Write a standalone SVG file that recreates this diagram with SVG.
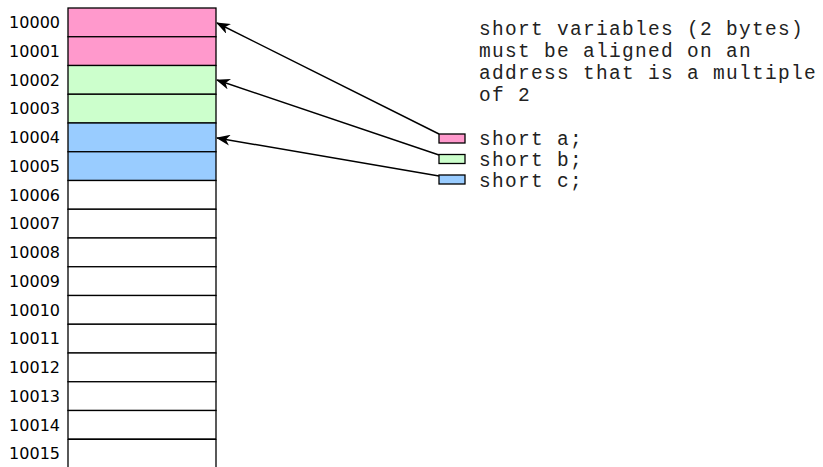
<svg xmlns="http://www.w3.org/2000/svg" width="823" height="467" viewBox="0 0 823 467">
<style>
.lbl{font-family:"DejaVu Sans",sans-serif;font-size:16px;text-anchor:end;fill:#000}
.mono{font-family:"Liberation Mono","Courier New",monospace;font-size:19.5px;letter-spacing:1.3px;fill:#222}
.cell{stroke:#000;stroke-width:1.3}
.w{fill:#fff}.p{fill:#ff99cc}.g{fill:#ccffcc}.b{fill:#99ccff}
.conn{stroke:#000;stroke-width:1.4;fill:none}
</style>
<defs>
<marker id="ah" viewBox="0 0 14 11" refX="13" refY="5.5" markerWidth="14" markerHeight="11" markerUnits="userSpaceOnUse" orient="auto">
<path d="M0,0 L14,5.5 L0,11 L4,5.5 z" fill="#000"/>
</marker>
</defs>
<rect width="823" height="467" fill="#fff"/>
<g id="memory">
<rect class="cell p" x="68" y="8" width="148" height="28.75"/>
<rect class="cell p" x="68" y="36.75" width="148" height="28.75"/>
<rect class="cell g" x="68" y="65.5" width="148" height="28.75"/>
<rect class="cell g" x="68" y="94.25" width="148" height="28.75"/>
<rect class="cell b" x="68" y="123" width="148" height="28.75"/>
<rect class="cell b" x="68" y="151.75" width="148" height="28.75"/>
<rect class="cell w" x="68" y="180.5" width="148" height="28.75"/>
<rect class="cell w" x="68" y="209.25" width="148" height="28.75"/>
<rect class="cell w" x="68" y="238" width="148" height="28.75"/>
<rect class="cell w" x="68" y="266.75" width="148" height="28.75"/>
<rect class="cell w" x="68" y="295.5" width="148" height="28.75"/>
<rect class="cell w" x="68" y="324.25" width="148" height="28.75"/>
<rect class="cell w" x="68" y="353" width="148" height="28.75"/>
<rect class="cell w" x="68" y="381.75" width="148" height="28.75"/>
<rect class="cell w" x="68" y="410.5" width="148" height="28.75"/>
<path class="cell" d="M68,439.25 H216 M68,439.25 V468 M216,439.25 V468" fill="none"/>
</g>
<g id="labels">
<text class="lbl" x="60" y="28">10000</text>
<text class="lbl" x="60" y="56.75">10001</text>
<text class="lbl" x="60" y="85.5">10002</text>
<text class="lbl" x="60" y="114.25">10003</text>
<text class="lbl" x="60" y="143">10004</text>
<text class="lbl" x="60" y="171.75">10005</text>
<text class="lbl" x="60" y="200.5">10006</text>
<text class="lbl" x="60" y="229.25">10007</text>
<text class="lbl" x="60" y="258">10008</text>
<text class="lbl" x="60" y="286.75">10009</text>
<text class="lbl" x="60" y="315.5">10010</text>
<text class="lbl" x="60" y="344.25">10011</text>
<text class="lbl" x="60" y="373">10012</text>
<text class="lbl" x="60" y="401.75">10013</text>
<text class="lbl" x="60" y="430.5">10014</text>
<text class="lbl" x="60" y="459.25">10015</text>
</g>
<g id="note">
<text class="mono" x="479" y="35">short variables (2 bytes)</text>
<text class="mono" x="479" y="57">must be aligned on an</text>
<text class="mono" x="479" y="79">address that is a multiple</text>
<text class="mono" x="479" y="101">of 2</text>
</g>
<g id="var-a">
<rect class="cell p" x="439" y="134" width="26" height="9"/>
<text class="mono" x="479" y="145">short a;</text>
</g>
<g id="var-b">
<rect class="cell g" x="439" y="154.5" width="26" height="9"/>
<text class="mono" x="479" y="166">short b;</text>
</g>
<g id="var-c">
<rect class="cell b" x="439" y="175" width="26" height="9"/>
<text class="mono" x="479" y="187">short c;</text>
</g>
<g id="connectors">
<line class="conn" x1="439" y1="134" x2="217" y2="23" marker-end="url(#ah)"/>
<line class="conn" x1="439" y1="155" x2="217" y2="80" marker-end="url(#ah)"/>
<line class="conn" x1="439" y1="176" x2="217" y2="138" marker-end="url(#ah)"/>
</g>
</svg>
